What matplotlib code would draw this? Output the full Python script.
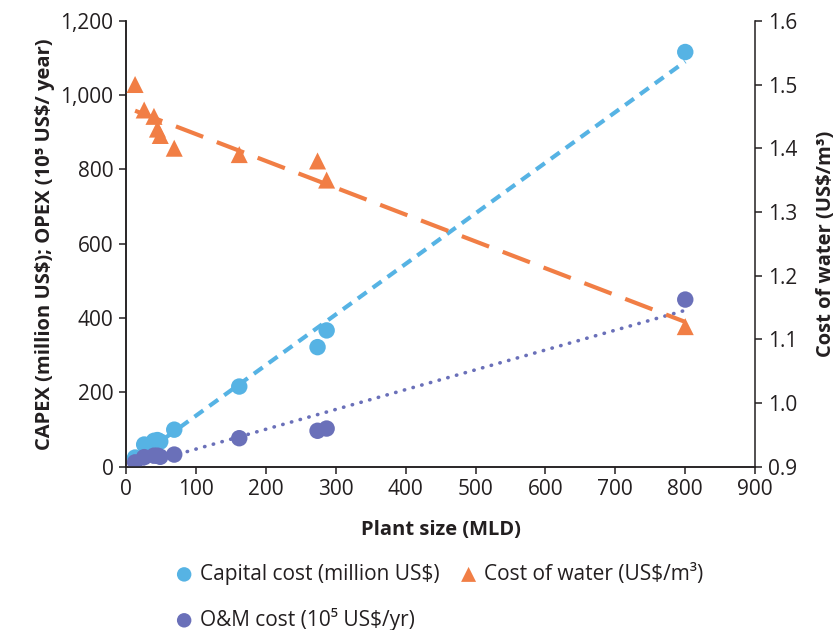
import matplotlib
matplotlib.use('Agg')
import matplotlib.pyplot as plt
from matplotlib.ticker import FuncFormatter
import numpy as np

plt.rcParams['font.family'] = ['Open Sans', 'DejaVu Sans']

# data
plant_size = [13, 26, 40, 45, 49, 69, 162, 274, 287, 800]          # MLD
capex = [25, 60, 70, 72, 68, 100, 216, 322, 367, 1116]             # million US$
opex = [12, 26, 30, 30, 27, 33, 77, 97, 103, 450]                  # 10^5 US$/yr
water_cost = [1.50, 1.46, 1.45, 1.43, 1.42, 1.40, 1.39, 1.38, 1.35, 1.12]  # US$/m3

blue = '#56B3E4'
orange = '#F17E45'
purple = '#6A70B9'
txt = '#231F20'

x = np.array(plant_size)
xfit = np.array([x.min(), x.max()])
cap_fit = np.polyval(np.polyfit(x, capex, 1), xfit)
om_fit = np.polyval(np.polyfit(x, opex, 1), xfit)
w_fit = np.polyval(np.polyfit(x, water_cost, 1), xfit)

fig = plt.figure(figsize=(8.4, 6.3), dpi=100)
ax = fig.add_axes([0.15, 0.259, 0.749, 0.708])
ax2 = ax.twinx()

ax.plot(xfit, cap_fit, color=blue, linewidth=3, linestyle=(0, (2.6, 1.8)), zorder=2)
ax.plot(xfit, om_fit, color=purple, linewidth=2.6, linestyle=(0, (0.1, 2.4)),
        dash_capstyle='round', zorder=2)
ax2.plot(xfit, w_fit, color=orange, linewidth=3, linestyle=(0, (7, 3.5)), zorder=2)

h1 = ax.scatter(plant_size, capex, s=140, color=blue, edgecolor='none', zorder=3,
                label=r'Capital cost (million US\$)')
h2 = ax.scatter(plant_size, opex, s=140, color=purple, edgecolor='none', zorder=3,
                label=r'O&M cost (10⁵ US\$/yr)')
h3 = ax2.scatter(plant_size, water_cost, s=150, marker='^', color=orange,
                 edgecolor='none', zorder=3, label=r'Cost of water (US\$/m³)')

ax.set_xlim(0, 900)
ax.set_ylim(0, 1200)
ax2.set_ylim(0.9, 1.6)
ax.set_xticks(range(0, 901, 100))
ax.set_yticks(range(0, 1201, 200))
ax2.set_yticks([0.9, 1.0, 1.1, 1.2, 1.3, 1.4, 1.5, 1.6])
ax.yaxis.set_major_formatter(FuncFormatter(lambda v, p: f'{int(v):,}'))
ax2.yaxis.set_major_formatter(FuncFormatter(lambda v, p: f'{v:.1f}'))

for a in (ax, ax2):
    a.spines['top'].set_visible(False)
    for s in a.spines.values():
        s.set_linewidth(1.1)
        s.set_color(txt)
    a.tick_params(labelsize=15, colors=txt, length=5, width=1.1, pad=4)
ax.spines['right'].set_visible(False)

ax.set_xlabel('Plant size (MLD)', fontsize=14.5, fontweight='bold', color=txt, labelpad=14)
ax.set_ylabel(r'CAPEX (million US\$); OPEX (10⁵ US\$/ year)', fontsize=14.5,
              fontweight='bold', color=txt, labelpad=4)
ax2.set_ylabel(r'Cost of water (US\$/m³)', fontsize=14.5, fontweight='bold',
               color=txt, labelpad=14)

fig.legend(handles=[h1, h2, h3], loc='lower left', bbox_to_anchor=(0.187, -0.031),
           ncol=2, frameon=False, fontsize=15, labelspacing=1.1,
           handlelength=0.8, handletextpad=0.35, columnspacing=1.0,
           markerscale=0.88, labelcolor=txt)

fig.savefig('out.png', dpi=100)
